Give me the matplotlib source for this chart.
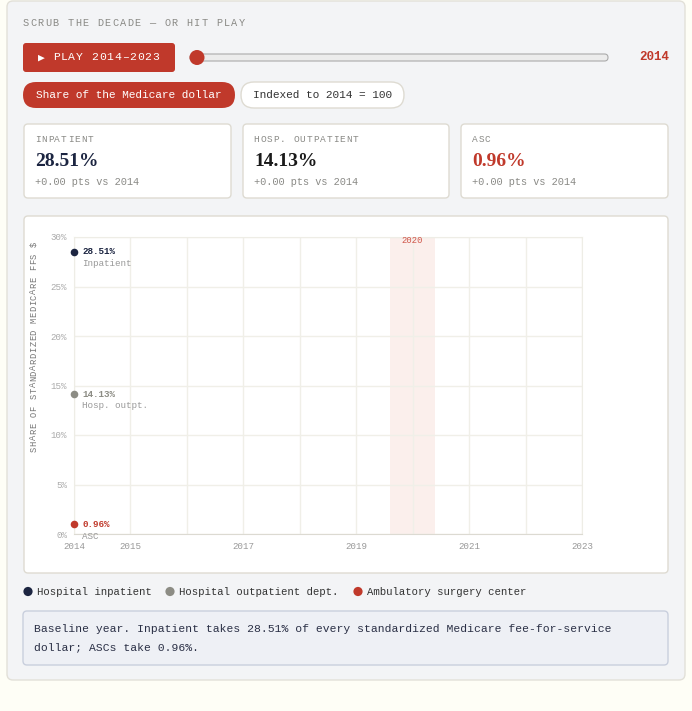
import matplotlib
matplotlib.use("Agg")
import matplotlib.pyplot as plt
from matplotlib.patches import FancyBboxPatch, Circle

# data (scrubber sits on the baseline year)
years = list(range(2014, 2024))
current_year = 2014
series_names = ["Hospital inpatient", "Hospital outpatient dept.", "Ambulatory surgery center"]
short_names = ["Inpatient", "Hosp. outpt.", "ASC"]
card_titles = ["INPATIENT", "HOSP. OUTPATIENT", "ASC"]
share_2014 = [28.51, 14.13, 0.96]
delta_pts = [0.00, 0.00, 0.00]
x_tick_years = [2014, 2015, 2017, 2019, 2021, 2023]
y_ticks = [0, 5, 10, 15, 20, 25, 30]
covid_year = 2020

W, H = 692, 711
RED = "#c0392b"
NAVY = "#1c2541"
GREY_DOT = "#8c8c84"
TXT_GREY = "#8a8a86"
colors = [NAVY, GREY_DOT, RED]
MONO = ["Liberation Mono", "DejaVu Sans Mono", "DejaVu Sans"]
SERIF = ["Liberation Serif", "DejaVu Serif"]

fig = plt.figure(figsize=(W / 100, H / 100), dpi=100)
fig.patch.set_facecolor("#fefef6")

bg = fig.add_axes([0, 0, 1, 1])
bg.set_xlim(0, W); bg.set_ylim(H, 0); bg.axis("off")


def box(x0, y0, x1, y1, fc, ec="none", r=4, lw=1.0, z=1):
    p = FancyBboxPatch((x0, y0), x1 - x0, y1 - y0,
                       boxstyle=f"round,pad=0,rounding_size={r}",
                       fc=fc, ec=ec, lw=lw, zorder=z)
    bg.add_patch(p)


def txt(x, y, s, size=8, color=TXT_GREY, ha="left", va="center", fam=MONO, z=4, **kw):
    bg.text(x, y, s, fontsize=size, color=color, ha=ha, va=va, family=fam, zorder=z, **kw)


def spaced(x, y, s, pitch, size=7, color=TXT_GREY, vertical=False, **kw):
    # letter-spaced monospace text, one glyph per cell
    for i, ch in enumerate(s):
        if ch == " ":
            continue
        if vertical:
            txt(x, y - i * pitch, ch, size=size, color=color, ha="center", rotation=90, **kw)
        else:
            txt(x + i * pitch, y, ch, size=size, color=color, ha="center", **kw)


# outer panel
box(7, 1, 685, 680, "#f3f4f6", ec="#e2e0d8", r=6)

spaced(25.8, 23, "SCRUB THE DECADE — OR HIT PLAY", 7.45, size=7.4, color="#8a8a86")

# play button + slider
box(23, 43, 175, 72, RED, r=3, z=2)
spaced(41.5, 57.5, "▶ PLAY 2014–2023", 7.6, size=8.2, color="white")
box(190, 54, 608, 61, "#ececec", ec="#aaaaaa", r=3.5, lw=0.8, z=2)
bg.add_patch(Circle((197, 57.5), 7.5, fc=RED, ec="none", zorder=3))
txt(669, 57.5, str(current_year), size=9, color=RED, ha="right", weight="bold")

# toggle pills
box(23, 82, 235, 108, RED, r=13, z=2)
txt(129, 95, "Share of the Medicare dollar", size=8.0, color="white", ha="center")
box(241, 82, 404, 108, "white", ec="#dedbd2", r=13, z=2)
txt(322.5, 95, "Indexed to 2014 = 100", size=8.0, color="#333", ha="center")

# KPI cards
card_x = [(24, 231), (243, 449), (461, 668)]
num_colors = [NAVY, "#1a1a1a", RED]
for (x0, x1), title, val, d, nc in zip(card_x, card_titles, share_2014, delta_pts, num_colors):
    box(x0, 124, x1, 198, "white", ec="#dedbd2", r=4, z=2)
    spaced(x0 + 13.5, 139.5, title, 6.6, size=6.8, color=TXT_GREY)
    txt(x0 + 11, 162, f"{val:.2f}%", size=14, color=nc, fam=SERIF, weight="bold")
    txt(x0 + 11, 182, f"+{d:.2f} pts vs {current_year}", size=7.4, color=TXT_GREY)

# chart card
box(24, 216, 668, 573, "white", ec="#dedbd2", r=4, z=1)
spaced(34, 449, "SHARE OF STANDARDIZED MEDICARE FFS $", 5.85, size=6.3, color="#777",
       vertical=True)

# chart axes (pixels 74..582 x 237..534)
ax = fig.add_axes([74 / W, 1 - 534 / H, (582 - 74) / W, (534 - 237) / H])
ax.set_facecolor("none")
ax.set_xlim(years[0], years[-1])
ax.set_ylim(0, 30)
for s in ["top", "right", "left"]:
    ax.spines[s].set_color("#eeede6")
ax.spines["bottom"].set_color("#dcdad2")
ax.set_xticks(years)
ax.set_xticklabels([str(y) if y in x_tick_years else "" for y in years],
                   fontsize=6.6, color="#999", family=MONO)
ax.set_yticks(y_ticks)
ax.set_yticklabels([f"{v}%" for v in y_ticks], fontsize=6.6, color="#aaa", family=MONO)
ax.tick_params(axis="x", length=0, pad=6)
ax.tick_params(axis="y", length=0, pad=5)
ax.grid(True, color="#f0efe8", lw=1)
ax.set_axisbelow(True)
ax.axvspan(covid_year - 0.4, covid_year + 0.4, color="#fbefec", zorder=0.5, lw=0)
ax.text(covid_year, 29.6, str(covid_year), fontsize=6.4, color="#d0564a",
        ha="center", va="center", family=MONO)

for i, v in enumerate(share_2014):
    ax.scatter([current_year], [v], s=30, color=colors[i], zorder=5, clip_on=False, lw=0)
    ax.annotate(f"{v:.2f}%", (current_year, v), xytext=(6, 0), textcoords="offset points",
                fontsize=6.7, color=colors[i], weight="bold", va="center", family=MONO,
                annotation_clip=False)
    ax.annotate(short_names[i], (current_year, v), xytext=(6, -8.3), textcoords="offset points",
                fontsize=6.7, color="#999", va="center", family=MONO, annotation_clip=False)

# legend
lx = [28, 170, 358]
for x, name, c in zip(lx, series_names, colors):
    bg.add_patch(Circle((x, 591.5), 4.6, fc=c, ec="none", zorder=3))
    txt(x + 9, 592, name, size=7.7, color="#333")

# caption box
box(23, 611, 668, 665, "#eef0f5", ec="#c9cfdd", r=4, z=2)
txt(34, 629, "Baseline year. Inpatient takes 28.51% of every standardized Medicare fee-for-service",
    size=8.2, color="#2a2f45")
txt(34, 647, "dollar; ASCs take 0.96%.", size=8.2, color="#2a2f45")

fig.savefig("out.png", dpi=100)
